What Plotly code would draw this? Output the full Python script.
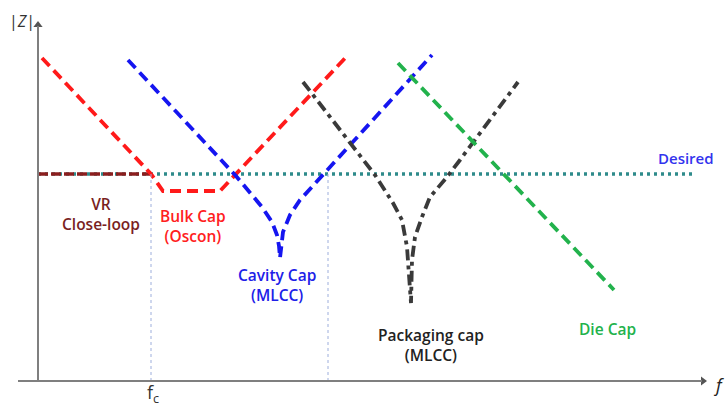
import plotly.graph_objects as go

# Impedance profile sketch: |Z| versus frequency for each decoupling stage.
# Coordinates are in sketch units (x grows to the right, y grows downward).

vr_x = [38, 151]
vr_y = [174, 174]

desired_x = [38, 695]
desired_y = [174, 174]

bulk_x = [42, 151, 163, 220, 348]
bulk_y = [58, 174, 191, 191, 55]

cavity_x = [128, 236, 262, 272, 277, 279, 280, 281, 283, 290, 300, 432]
cavity_y = [60, 176, 207, 222, 235, 246, 258, 246, 232, 215, 200, 55]

pkg_x = [303, 363, 375, 393, 402, 407, 409, 411, 412, 415, 422, 430, 447, 460, 518]
pkg_y = [82, 160, 175, 203, 220, 247, 270, 303, 260, 237, 217, 197, 177, 160, 82]

die_x = [398, 614]
die_y = [63, 290]

fc_x = 151
f2_x = 328

axis_x0, axis_x1 = 18, 706
axis_y0, axis_y1 = 381, 22
yaxis_x = 38

fig = go.Figure()

def curve(x, y, color, dash, width=3.8):
    fig.add_trace(go.Scatter(x=x, y=y, mode="lines",
                             line=dict(color=color, dash=dash, width=width),
                             hoverinfo="skip", showlegend=False))

# vertical guide lines at the crossover frequencies
for gx in (fc_x, f2_x):
    fig.add_shape(type="line", x0=gx, x1=gx, y0=174, y1=axis_y0,
                  line=dict(color="#9DAEDC", width=1, dash="dot"))

# axes
fig.add_shape(type="line", x0=yaxis_x, x1=yaxis_x, y0=axis_y0 + 1, y1=axis_y1 + 4,
              line=dict(color="#7F7F7F", width=2))
fig.add_shape(type="line", x0=axis_x0, x1=axis_x1 - 4, y0=axis_y0, y1=axis_y0,
              line=dict(color="#7F7F7F", width=2))
fig.add_trace(go.Scatter(x=[yaxis_x], y=[axis_y1 + 3], mode="markers",
                         marker=dict(symbol="triangle-up", size=8, color="#555555"),
                         hoverinfo="skip", showlegend=False))
fig.add_trace(go.Scatter(x=[axis_x1 - 3], y=[axis_y0], mode="markers",
                         marker=dict(symbol="triangle-right", size=8, color="#555555"),
                         hoverinfo="skip", showlegend=False))

curve(desired_x, desired_y, "#2E8B8B", "3px,4px", 3.5)
curve(vr_x, vr_y, "#8B1E1E", "10px,3px", 3.5)
curve(bulk_x, bulk_y, "#FF1A1A", "11px,6px")
curve(cavity_x, cavity_y, "#1515F0", "11px,6px")
curve(pkg_x, pkg_y, "#3A3A3A", "11px,5px,4px,5px")
curve(die_x, die_y, "#22B24C", "11px,6px")

font = "'Open Sans', Lato, sans-serif"

def label(x, y, text, color, size=15.5, weight=600, italic=False):
    t = "<i>" + text + "</i>" if italic else text
    fig.add_annotation(x=x, y=y, text=t, showarrow=False, xref="x", yref="y",
                       font=dict(family=font, size=size, color=color, weight=weight),
                       align="center")

label(22, 21, "|<i>Z</i>|", "#333333", 16, weight=400)
label(718, 385, "f", "#222222", 18, weight=400, italic=True)
label(153, 393, "f<sub>c</sub>", "#333333", 18, weight=400)
label(101, 214, "VR<br>Close-loop", "#7A1F1F")
label(193, 226, "Bulk Cap<br>(Oscon)", "#FF2020")
label(277, 285, "Cavity Cap<br>(MLCC)", "#2020E8")
label(431, 345, "Packaging cap<br>(MLCC)", "#222222")
label(607, 329, "Die Cap", "#22B24C")
label(686, 158, "Desired", "#3333EE", 15)

fig.update_layout(
    width=728, height=408,
    margin=dict(l=0, r=0, t=0, b=0),
    paper_bgcolor="white", plot_bgcolor="white",
    xaxis=dict(range=[0, 728], visible=False, fixedrange=True),
    yaxis=dict(range=[408, 0], visible=False, fixedrange=True),
)

fig.write_html("out.html")
